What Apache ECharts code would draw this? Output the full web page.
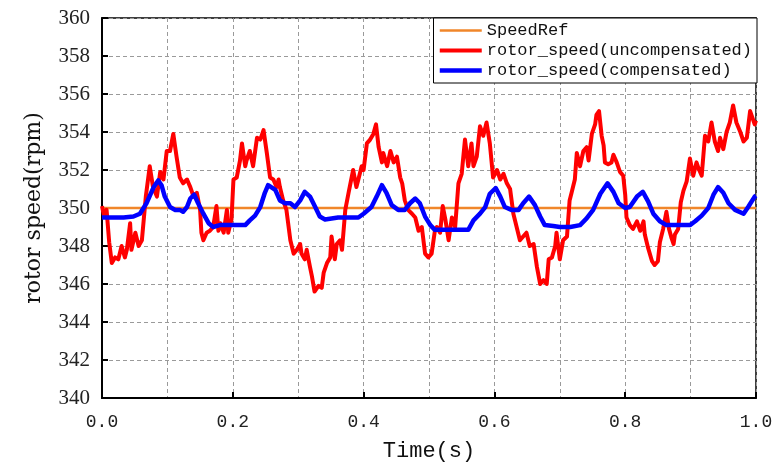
<!DOCTYPE html>
<html>
<head>
<meta charset="utf-8">
<script src="https://cdn.jsdelivr.net/npm/echarts@6/dist/echarts.min.js"></script>
<style>
html,body{margin:0;padding:0;background:#fff;}
#chart{width:773px;height:466px;}
</style>
</head>
<body>
<div id="chart"></div>
<script>
// ---- data ----
var seriesNames = ['SpeedRef', 'rotor_speed(uncompensated)', 'rotor_speed(compensated)'];
var xTicks = [0, 0.2, 0.4, 0.6, 0.8, 1.0];
var yTicks = [340, 342, 344, 346, 348, 350, 352, 354, 356, 358, 360];
var refTime = [0, 1];
var refSpeed = [350, 350];

var redTime = [0.000,0.003,0.007,0.011,0.015,0.020,0.025,0.030,0.035,0.038,0.043,0.045,0.051,0.056,0.061,0.064,0.067,0.073,0.078,0.084,0.089,0.094,0.099,0.104,0.109,0.114,0.119,0.124,0.130,0.135,0.140,0.145,0.150,0.152,0.155,0.160,0.165,0.170,0.175,0.178,0.181,0.186,0.191,0.193,0.198,0.201,0.206,0.211,0.214,0.219,0.221,0.226,0.231,0.237,0.242,0.247,0.252,0.257,0.262,0.267,0.270,0.272,0.277,0.282,0.288,0.293,0.298,0.303,0.305,0.310,0.313,0.318,0.321,0.325,0.331,0.336,0.339,0.344,0.349,0.351,0.356,0.359,0.364,0.367,0.372,0.377,0.384,0.389,0.392,0.397,0.400,0.405,0.410,0.415,0.419,0.423,0.428,0.430,0.436,0.441,0.446,0.451,0.456,0.459,0.463,0.468,0.474,0.479,0.484,0.489,0.494,0.499,0.504,0.509,0.512,0.517,0.521,0.525,0.530,0.535,0.540,0.545,0.550,0.555,0.560,0.565,0.568,0.573,0.578,0.583,0.588,0.593,0.598,0.604,0.609,0.614,0.619,0.624,0.629,0.634,0.639,0.644,0.649,0.654,0.660,0.665,0.670,0.675,0.680,0.683,0.688,0.693,0.695,0.700,0.705,0.711,0.715,0.718,0.723,0.726,0.731,0.736,0.741,0.744,0.749,0.754,0.756,0.760,0.764,0.767,0.769,0.774,0.779,0.782,0.787,0.792,0.797,0.800,0.802,0.807,0.812,0.818,0.823,0.828,0.830,0.835,0.841,0.845,0.850,0.853,0.858,0.863,0.867,0.871,0.874,0.876,0.881,0.885,0.889,0.894,0.899,0.904,0.909,0.912,0.917,0.922,0.927,0.932,0.937,0.942,0.945,0.950,0.955,0.960,0.965,0.970,0.976,0.981,0.986,0.991,0.993,0.998,1.000];
var redSpeed = [350.1,349.6,349.9,348.2,347.1,347.4,347.3,348.0,347.4,347.8,349.2,347.8,348.7,348.0,348.3,348.4,350.6,352.2,351.1,350.6,351.9,351.5,353.0,353.0,353.9,352.7,351.6,351.3,351.5,351.1,350.6,350.8,349.9,348.7,348.3,348.7,348.8,349.0,350.1,348.8,349.2,348.7,349.9,348.7,349.4,351.5,351.6,352.5,353.4,352.2,352.5,353.0,352.2,353.7,353.6,354.1,352.9,351.6,351.5,351.1,351.5,351.1,350.4,349.9,348.3,347.6,347.8,348.1,347.6,347.3,347.8,346.9,346.4,345.6,345.9,345.8,346.6,347.1,347.4,348.5,347.3,348.1,348.3,347.8,349.9,350.8,352.0,351.1,351.5,352.2,352.0,353.4,353.6,353.9,354.4,353.2,352.4,352.9,352.2,353.0,352.4,352.7,351.6,351.3,350.4,349.9,349.7,349.5,348.8,349.0,347.6,347.4,347.6,348.8,349.0,348.7,350.1,349.4,348.3,349.5,349.0,351.3,351.8,353.6,352.2,353.4,352.2,352.7,354.3,353.8,354.5,353.4,351.6,352.0,351.5,351.8,351.3,351.0,349.7,349.0,348.3,348.5,348.7,348.0,348.1,346.9,346.0,346.2,346.0,347.3,347.4,348.0,348.7,347.3,348.3,348.5,350.4,350.8,351.5,352.9,352.2,353.0,353.2,352.5,353.9,354.4,354.9,355.1,353.8,353.3,352.4,352.3,352.4,352.8,352.4,351.9,351.7,350.7,349.5,349.1,348.9,349.3,348.8,349.3,348.6,347.9,347.2,347.0,347.2,348.2,348.9,349.8,348.9,348.4,348.1,348.6,348.9,350.3,350.9,351.4,352.6,351.7,352.4,352.1,351.7,353.8,353.5,354.5,353.5,353.0,353.7,353.1,354.0,354.5,355.4,354.5,354.0,353.5,353.7,355.1,354.9,354.4,354.6];

var blueTime = [0.000,0.017,0.033,0.048,0.058,0.068,0.079,0.086,0.091,0.096,0.104,0.112,0.119,0.124,0.130,0.135,0.141,0.147,0.155,0.163,0.170,0.180,0.196,0.211,0.219,0.226,0.234,0.242,0.249,0.254,0.257,0.265,0.272,0.280,0.288,0.295,0.303,0.310,0.318,0.326,0.333,0.341,0.351,0.361,0.377,0.392,0.400,0.412,0.420,0.428,0.435,0.443,0.453,0.463,0.471,0.479,0.486,0.494,0.502,0.509,0.522,0.532,0.542,0.553,0.560,0.568,0.578,0.586,0.593,0.602,0.609,0.616,0.626,0.637,0.644,0.653,0.662,0.670,0.677,0.690,0.700,0.716,0.731,0.741,0.751,0.762,0.773,0.782,0.790,0.800,0.807,0.818,0.827,0.835,0.843,0.853,0.863,0.881,0.899,0.907,0.917,0.927,0.935,0.942,0.950,0.958,0.968,0.981,0.988,0.998,1.000];
var blueSpeed = [349.5,349.5,349.5,349.55,349.7,350.25,351.1,351.45,351.2,350.6,350.05,349.9,349.9,349.8,350.05,350.5,350.7,350.25,349.7,349.2,349.0,349.1,349.1,349.1,349.1,349.35,349.6,350.05,350.8,351.2,351.1,350.95,350.4,350.25,350.25,350.05,350.4,350.85,350.6,350.05,349.55,349.4,349.45,349.5,349.5,349.5,349.7,350.05,350.6,351.2,350.8,350.15,349.9,349.9,350.25,350.5,350.25,349.55,349.1,348.85,348.85,348.85,348.85,348.85,348.85,349.35,349.7,350.05,350.75,351.05,350.6,350.05,349.9,349.9,350.25,350.6,350.15,349.55,349.1,349.05,349.0,349.0,349.1,349.45,349.9,350.75,351.3,350.85,350.25,350.0,350.05,350.6,350.85,350.35,349.7,349.3,349.1,349.1,349.1,349.3,349.6,350.0,350.7,351.1,350.8,350.25,349.9,349.7,350.05,350.6,350.65];

function zip(a, b) { return a.map(function (v, i) { return [v, b[i]]; }); }

var chart = echarts.init(document.getElementById('chart'), null, {renderer: 'canvas'});
var dash = {color: '#9a9a9a', width: 1, type: [4, 3]};
var lineW = [2.5, 4, 4.5];
var lineC = ['#F0862A', '#FF0000', '#0000FF'];
var option = {
  animation: false,
  backgroundColor: '#fff',
  grid: {left: 102, right: 17, top: 18, bottom: 68, containLabel: false, outerBoundsMode: 'none',
         show: true, borderColor: '#000', borderWidth: 1.5, backgroundColor: '#fff'},
  legend: {
    data: seriesNames.map(function (n, i) {
      return {name: n, lineStyle: {width: lineW[i], color: lineC[i]}};
    }),
    orient: 'vertical',
    right: 16, top: 18,
    backgroundColor: '#fff',
    borderColor: '#000', borderWidth: 1,
    borderRadius: 0,
    padding: [4, 5, 4, 4],
    itemGap: 3,
    itemWidth: 42, itemHeight: 14,
    itemTextGap: 9,
    itemStyle: {opacity: 0},
    textStyle: {fontFamily: 'Liberation Mono', fontSize: 17, color: '#111', lineHeight: 17}
  },
  xAxis: {
    type: 'value', min: xTicks[0], max: xTicks[xTicks.length - 1], interval: 0.2,
    name: 'Time(s)', nameLocation: 'middle', nameGap: 42,
    nameTextStyle: {fontFamily: 'Liberation Mono', fontSize: 22, color: '#111'},
    axisLine: {onZero: false, lineStyle: {color: '#000', width: 2}},
    axisTick: {inside: true, length: 6, lineStyle: {color: '#000', width: 2}},
    minorTick: {show: false, splitNumber: 2},
    minorSplitLine: {show: true, lineStyle: dash},
    splitLine: {show: true, lineStyle: dash},
    axisLabel: {margin: 15, fontFamily: 'Liberation Mono', fontSize: 18, color: '#222',
      formatter: function (v) { return v.toFixed(1); }}
  },
  yAxis: {
    type: 'value', min: yTicks[0], max: yTicks[yTicks.length - 1], interval: 2,
    name: 'rotor speed(rpm)', nameLocation: 'middle', nameGap: 57,
    nameTextStyle: {fontFamily: 'DejaVu Serif', fontSize: 22, color: '#111'},
    axisLine: {onZero: false, lineStyle: {color: '#000', width: 2}},
    axisTick: {inside: true, length: 6, lineStyle: {color: '#000', width: 2}},
    splitLine: {show: true, lineStyle: dash},
    axisLabel: {margin: 12, fontFamily: 'Liberation Serif', fontSize: 21, color: '#222'}
  },
  series: seriesNames.map(function (n, i) {
    var d = i === 0 ? zip(refTime, refSpeed) : (i === 1 ? zip(redTime, redSpeed) : zip(blueTime, blueSpeed));
    return {name: n, type: 'line', data: d, symbol: 'none',
      lineStyle: {color: lineC[i], width: lineW[i], join: 'round'}, itemStyle: {color: lineC[i]}};
  })
};
chart.setOption(option);
</script>
</body>
</html>
